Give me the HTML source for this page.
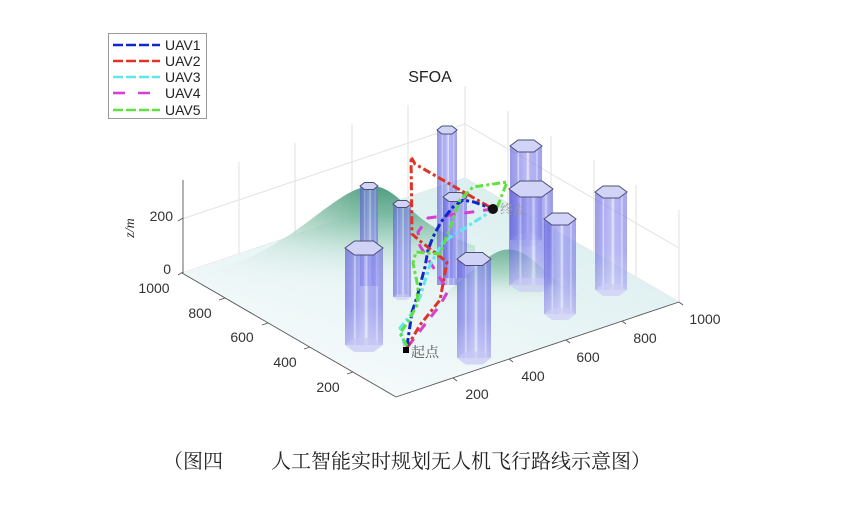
<!DOCTYPE html>
<html><head><meta charset="utf-8">
<style>
html,body{margin:0;padding:0;background:#fff;}
svg{display:block;}
</style></head>
<body>
<svg width="841" height="513" viewBox="0 0 841 513" xmlns="http://www.w3.org/2000/svg">
<defs>
  <linearGradient id="floorG" x1="465" y1="178" x2="396" y2="397" gradientUnits="userSpaceOnUse">
    <stop offset="0" stop-color="#dcefef"/>
    <stop offset="0.5" stop-color="#e8f4f5"/>
    <stop offset="1" stop-color="#f5fafb"/>
  </linearGradient>
  <linearGradient id="hill1" x1="0" y1="185" x2="0" y2="285" gradientUnits="userSpaceOnUse">
    <stop offset="0" stop-color="#4f9d80"/>
    <stop offset="0.3" stop-color="#7dbba3"/>
    <stop offset="0.6" stop-color="#bfe0d4"/>
    <stop offset="1" stop-color="#e4f2f1" stop-opacity="0"/>
  </linearGradient>
  <linearGradient id="maskG" x1="190" y1="0" x2="372" y2="0" gradientUnits="userSpaceOnUse">
    <stop offset="0" stop-color="#000"/>
    <stop offset="0.35" stop-color="#666"/>
    <stop offset="1" stop-color="#fff"/>
  </linearGradient>
  <mask id="hillMask" maskUnits="userSpaceOnUse" x="0" y="0" width="841" height="513">
    <rect x="0" y="0" width="841" height="513" fill="url(#maskG)"/>
  </mask>
  <clipPath id="floorClip">
    <polygon points="182,273 396,397 679,302 679,100 182,100"/>
  </clipPath>
  <linearGradient id="hill2" x1="0" y1="248" x2="0" y2="305" gradientUnits="userSpaceOnUse">
    <stop offset="0" stop-color="#72b49b"/>
    <stop offset="0.5" stop-color="#b2dacb"/>
    <stop offset="1" stop-color="#e6f3f1" stop-opacity="0"/>
  </linearGradient>
  <linearGradient id="colG" x1="0" y1="0" x2="1" y2="0">
    <stop offset="0" stop-color="#5c5cd8"/>
    <stop offset="0.22" stop-color="#7474e6"/>
    <stop offset="0.26" stop-color="#c8c8fa"/>
    <stop offset="0.3" stop-color="#7a7ae8"/>
    <stop offset="0.5" stop-color="#9494f0"/>
    <stop offset="0.56" stop-color="#dcdcfc"/>
    <stop offset="0.62" stop-color="#8a8aee"/>
    <stop offset="0.8" stop-color="#8080ea"/>
    <stop offset="0.84" stop-color="#c0c0f8"/>
    <stop offset="0.88" stop-color="#7a7ae6"/>
    <stop offset="1" stop-color="#6e6ee2"/>
  </linearGradient>
  <linearGradient id="colFade" x1="0" y1="0" x2="0" y2="1">
    <stop offset="0" stop-color="#ffffff" stop-opacity="0"/>
    <stop offset="0.6" stop-color="#ffffff" stop-opacity="0.05"/>
    <stop offset="1" stop-color="#ffffff" stop-opacity="0.35"/>
  </linearGradient>
</defs>

<!-- back walls gridlines -->
<g stroke="#e2e2e2" stroke-width="1" fill="none">
  <line x1="239" y1="254" x2="239" y2="162"/>
  <line x1="295" y1="235" x2="295" y2="143"/>
  <line x1="352" y1="216" x2="352" y2="124"/>
  <line x1="408" y1="197" x2="408" y2="105"/>
  <line x1="465" y1="178" x2="465" y2="86"/>
  <line x1="508" y1="203" x2="508" y2="111"/>
  <line x1="551" y1="228" x2="551" y2="136"/>
  <line x1="594" y1="252" x2="594" y2="160"/>
  <line x1="636" y1="277" x2="636" y2="185"/>
  <line x1="679" y1="302" x2="679" y2="210"/>
  <line x1="182" y1="219" x2="465" y2="124"/>
  <line x1="465" y1="124" x2="679" y2="248"/>
  <line x1="182" y1="273" x2="465" y2="178"/>
  <line x1="465" y1="178" x2="679" y2="302"/>
</g>

<!-- floor -->
<polygon points="182,273 396,397 679,302 465,178" fill="url(#floorG)"/>

<!-- hills -->
<g clip-path="url(#floorClip)">
  <path d="M190,276 C250,266 292,234 322,211 C344,195 358,186 372,186 C388,186 400,200 416,214 C432,228 452,238 475,246 L475,300 L190,300 Z" fill="url(#hill1)" mask="url(#hillMask)"/>
  <path d="M425,306 C458,290 480,256 503,250 C525,246 540,268 560,284 C575,295 592,301 605,306 Z" fill="url(#hill2)"/>
</g>

<!-- back columns -->
<g stroke-width="1">
  <g>
    <rect x="510" y="146" width="32" height="94" fill="url(#colG)" opacity="0.64"/>
    <polygon points="510,240 518,246 534,246 542,240 534,234 518,234" fill="#c9c9f5" opacity="0.6"/>
    <polygon points="510,146 518,140 534,140 542,146 534,152 518,152" fill="#d2d4f7" stroke="#4c5070"/>
  </g>
  <g>
    <rect x="437" y="130" width="20" height="155" fill="url(#colG)" opacity="0.64"/>
    <polygon points="437,130 442,126 452,126 457,130 452,134 442,134" fill="#d2d4f7" stroke="#4c5070"/>
  </g>
  <g>
    <rect x="595" y="192" width="32" height="98" fill="url(#colG)" opacity="0.62"/>
    <rect x="595" y="192" width="32" height="98" fill="url(#colFade)"/>
    <polygon points="595,290 603,296 619,296 627,290 619,284 603,284" fill="#cdcdf6" opacity="0.7"/>
    <polygon points="595,192 603,186 619,186 627,192 619,198 603,198" fill="#d2d4f7" stroke="#4c5070"/>
  </g>
  <g>
    <rect x="360" y="186" width="18" height="100" fill="url(#colG)" opacity="0.64"/>
    <polygon points="360,186 364.5,182.5 373.5,182.5 378,186 373.5,189.5 364.5,189.5" fill="#d2d4f7" stroke="#4c5070"/>
  </g>
  <g>
    <rect x="393" y="204" width="18" height="93" fill="url(#colG)" opacity="0.64"/>
    <polygon points="393,297 397.5,300 406.5,300 411,297 406.5,294 397.5,294" fill="#c9c9f5" opacity="0.6"/>
    <polygon points="393,204 397.5,200.5 406.5,200.5 411,204 406.5,207.5 397.5,207.5" fill="#d2d4f7" stroke="#4c5070"/>
  </g>
  <g>
    <rect x="443" y="197" width="24" height="81" fill="url(#colG)" opacity="0.64"/>
    <polygon points="443,197 449,192.5 461,192.5 467,197 461,201.5 449,201.5" fill="#d2d4f7" stroke="#4c5070"/>
  </g>
  <g>
    <rect x="509" y="189" width="44" height="96" fill="url(#colG)" opacity="0.66"/>
    <rect x="509" y="189" width="44" height="96" fill="url(#colFade)"/>
    <polygon points="509,285 520,292 542,292 553,285 542,278 520,278" fill="#c9c9f5" opacity="0.6"/>
    <polygon points="509,189 520,181 542,181 553,189 542,197 520,197" fill="#d2d4f7" stroke="#4c5070"/>
  </g>
  <g>
    <rect x="544" y="219" width="32" height="95" fill="url(#colG)" opacity="0.64"/>
    <rect x="544" y="219" width="32" height="95" fill="url(#colFade)"/>
    <polygon points="544,314 552,320 568,320 576,314 568,308 552,308" fill="#cdcdf6" opacity="0.7"/>
    <polygon points="544,219 552,213 568,213 576,219 568,225 552,225" fill="#d2d4f7" stroke="#4c5070"/>
  </g>
</g>

<!-- paths -->
<g fill="none" stroke-width="3" stroke-linejoin="round">
  <path d="M493,209 L472,212 L428,218 L418,232 L420,246 L448,291 L440,305 L406,349" stroke="#d63fd6" stroke-dasharray="10 9"/>
  <path d="M405,346 L400,328 L412,313 L420,297 L430,265 L443,242 L493,210" stroke="#5fe6ee" stroke-dasharray="8 3 3 3"/>
  <path d="M406,349 L420,325 L440,300 L447,262 L420,241 L412,234 L411,157 L415,164 L493,209" stroke="#e03325" stroke-dasharray="8 3 3 3"/>
  <path d="M407,346 L412,312 L417,297 L425,267 L428,250 L433,237 L441,222 L453,207 L463,200 L474,202 L493,209" stroke="#1028c8" stroke-dasharray="8 3 3 3"/>
  <path d="M407,346 L400,333 L408,322 L417,305 L418,287 L413,263 L416,252 L440,254 L450,228 L460,200 L473,187 L507,182 L497,208" stroke="#62e040" stroke-dasharray="8 3 3 3"/>
</g>

<!-- markers -->
<rect x="403" y="347" width="6" height="6" fill="#000"/>
<circle cx="493" cy="209" r="5" fill="#111"/>
<text x="411" y="357" font-family="Liberation Serif, 'Noto Serif CJK SC', serif" font-size="14" fill="#555">起点</text>
<text x="500" y="214" font-family="Liberation Serif, 'Noto Serif CJK SC', serif" font-size="13" fill="#999">终点</text>

<!-- front columns -->
<g stroke-width="1">
  <g>
    <rect x="345" y="248" width="38" height="97" fill="url(#colG)" opacity="0.68"/>
    <rect x="345" y="248" width="38" height="97" fill="url(#colFade)"/>
    <polygon points="345,345 354.5,352 373.5,352 383,345 373.5,338 354.5,338" fill="#c6c6f5" opacity="0.7"/>
    <polygon points="345,248 354.5,241 373.5,241 383,248 373.5,255 354.5,255" fill="#d0d2f7" stroke="#4c5070"/>
  </g>
  <g>
    <rect x="457" y="259" width="34" height="99" fill="url(#colG)" opacity="0.68"/>
    <rect x="457" y="259" width="34" height="99" fill="url(#colFade)"/>
    <polygon points="457,358 465.5,364.5 482.5,364.5 491,358 482.5,351.5 465.5,351.5" fill="#c6c6f5" opacity="0.7"/>
    <polygon points="457,259 465.5,252.5 482.5,252.5 491,259 482.5,265.5 465.5,265.5" fill="#d0d2f7" stroke="#4c5070"/>
  </g>
</g>

<!-- axes -->
<g stroke="#555" stroke-width="0.9" fill="none">
  <line x1="183" y1="180" x2="183" y2="273"/>
  <line x1="183" y1="218" x2="178" y2="221"/>
  <line x1="183" y1="272" x2="178" y2="275"/>
  <line x1="182" y1="273" x2="396" y2="397"/>
  <line x1="396" y1="397" x2="679" y2="302"/>
  <line x1="225" y1="298" x2="219" y2="300"/>
  <line x1="268" y1="323" x2="262" y2="325"/>
  <line x1="310" y1="347" x2="304" y2="349"/>
  <line x1="353" y1="372" x2="347" y2="374"/>
  <line x1="453" y1="378" x2="457" y2="381"/>
  <line x1="509" y1="359" x2="513" y2="362"/>
  <line x1="566" y1="340" x2="570" y2="343"/>
  <line x1="622" y1="321" x2="626" y2="324"/>
  <line x1="679" y1="302" x2="683" y2="305"/>
</g>

<!-- tick labels -->
<g font-family="Liberation Sans, Arial, sans-serif" font-size="14" fill="#333">
  <text x="173" y="221" text-anchor="end">200</text>
  <text x="171" y="274" text-anchor="end">0</text>
  <text x="154" y="293" text-anchor="middle">1000</text>
  <text x="200" y="318" text-anchor="middle">800</text>
  <text x="242" y="342" text-anchor="middle">600</text>
  <text x="285" y="367" text-anchor="middle">400</text>
  <text x="328" y="392" text-anchor="middle">200</text>
  <text x="477" y="399" text-anchor="middle">200</text>
  <text x="533" y="381" text-anchor="middle">400</text>
  <text x="588" y="362" text-anchor="middle">600</text>
  <text x="645" y="343" text-anchor="middle">800</text>
  <text x="705" y="324" text-anchor="middle">1000</text>
</g>
<text transform="translate(134,228) rotate(-90)" font-family="Liberation Serif, serif" font-style="italic" font-size="14" fill="#333" text-anchor="middle">z/m</text>

<!-- title -->
<text x="430" y="82" font-family="Liberation Sans, Arial, sans-serif" font-size="16" fill="#222" text-anchor="middle">SFOA</text>

<!-- legend -->
<rect x="108.5" y="33.5" width="98" height="85" fill="#fff" stroke="#9a9a9a" stroke-width="1"/>
<g fill="none" stroke-width="2.6">
  <line x1="113" y1="45" x2="160" y2="45" stroke="#1028c8" stroke-dasharray="10 3"/>
  <line x1="113" y1="61" x2="160" y2="61" stroke="#e03325" stroke-dasharray="10 3"/>
  <line x1="113" y1="77" x2="160" y2="77" stroke="#5fe6ee" stroke-dasharray="10 3"/>
  <line x1="113" y1="93" x2="160" y2="93" stroke="#d63fd6" stroke-dasharray="12 13"/>
  <line x1="113" y1="110" x2="160" y2="110" stroke="#62e040" stroke-dasharray="10 3"/>
</g>
<g font-family="Liberation Sans, Arial, sans-serif" font-size="14" fill="#222">
  <text x="165" y="50">UAV1</text>
  <text x="165" y="66">UAV2</text>
  <text x="165" y="82">UAV3</text>
  <text x="165" y="98">UAV4</text>
  <text x="165" y="115">UAV5</text>
</g>

<!-- caption -->
<g font-family="Liberation Serif, 'Noto Serif CJK SC', serif" font-size="20" fill="#222">
  <text x="163" y="468" textLength="60" lengthAdjust="spacingAndGlyphs">（图四</text>
  <text x="271" y="468" textLength="380" lengthAdjust="spacingAndGlyphs">人工智能实时规划无人机飞行路线示意图）</text>
</g>
</svg>
</body></html>
